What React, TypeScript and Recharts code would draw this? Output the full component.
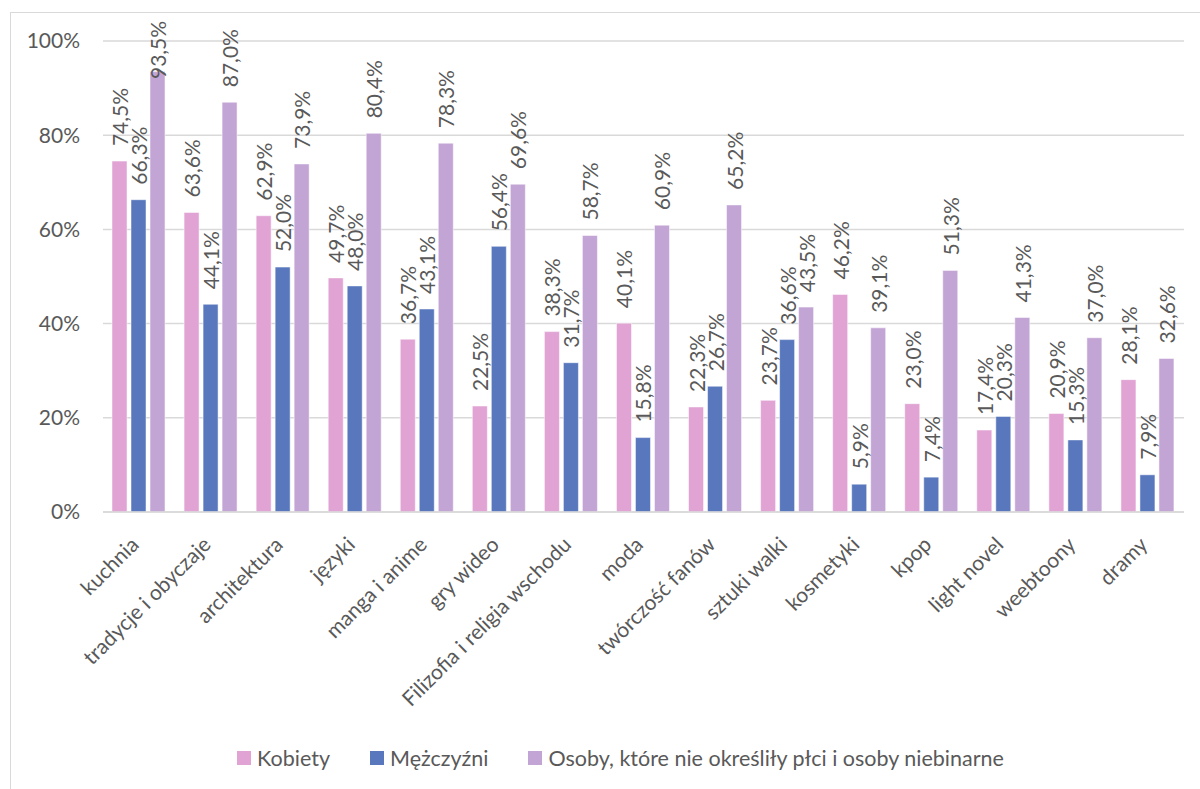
import React from 'react';
import { BarChart, Bar, XAxis, YAxis, CartesianGrid, Legend, LabelList } from 'recharts';

const categories = [
  'kuchnia',
  'tradycje i obyczaje',
  'architektura',
  'języki',
  'manga i anime',
  'gry wideo',
  'Filizofia i religia wschodu',
  'moda',
  'twórczość fanów',
  'sztuki walki',
  'kosmetyki',
  'kpop',
  'light novel',
  'weebtoony',
  'dramy',
];

const kobiety = [74.5, 63.6, 62.9, 49.7, 36.7, 22.5, 38.3, 40.1, 22.3, 23.7, 46.2, 23.0, 17.4, 20.9, 28.1];
const mezczyzni = [66.3, 44.1, 52.0, 48.0, 43.1, 56.4, 31.7, 15.8, 26.7, 36.6, 5.9, 7.4, 20.3, 15.3, 7.9];
const niebinarne = [93.5, 87.0, 73.9, 80.4, 78.3, 69.6, 58.7, 60.9, 65.2, 43.5, 39.1, 51.3, 41.3, 37.0, 32.6];

const yTicks = [0, 20, 40, 60, 80, 100];

const seriesNames = ['Kobiety', 'Mężczyźni', 'Osoby, które nie określiły płci i osoby niebinarne'];
const seriesColors = ['#E0A3D4', '#5877BD', '#C3A5D5'];

const data = categories.map((name, i) => ({
  name,
  k: kobiety[i],
  m: mezczyzni[i],
  o: niebinarne[i],
}));

const FONT = 'Lato, "Noto Sans", sans-serif';
const TEXT = '#595959';
const FS = 21;

const fmt = (v: number) => v.toFixed(1).replace('.', ',') + '%';

// rotated label above the bar, pushed down if it would leave the chart (like Excel)
const renderLabel = (props: any) => {
  const { x, y, width, value } = props;
  const cx = Number(x) + Number(width) / 2;
  const ty = Math.max(Number(y) - 15, 66);
  return (
    <text
      x={cx}
      y={ty}
      transform={`rotate(-90 ${cx} ${ty})`}
      textAnchor="start"
      dominantBaseline="central"
      fill={TEXT}
      fontSize={FS}
      fontFamily={FONT}
    >
      {fmt(Number(value))}
    </text>
  );
};

const XTick = (props: any) => {
  const { x, y, payload } = props;
  return (
    <g transform={`translate(${x - 5},${y + 20})`}>
      <text
        x={0}
        y={0}
        transform="rotate(-45)"
        textAnchor="end"
        dominantBaseline="central"
        fill={TEXT}
        fontSize={FS}
        fontFamily={FONT}
      >
        {payload.value}
      </text>
    </g>
  );
};

const LegendContent = () => (
  <div
    style={{
      display: 'flex',
      justifyContent: 'center',
      alignItems: 'center',
      height: 30,
      paddingLeft: 14,
      fontFamily: FONT,
      fontSize: 21.5,
      color: TEXT,
    }}
  >
    {seriesNames.map((n, i) => (
      <div key={n} style={{ display: 'flex', alignItems: 'center', marginRight: i < 2 ? 40 : 0 }}>
        <span style={{ width: 14, height: 14, background: seriesColors[i], marginRight: 6, display: 'inline-block' }} />
        <span>{n}</span>
      </div>
    ))}
  </div>
);

export default function App() {
  return (
    <div
      style={{
        position: 'fixed',
        left: 10,
        top: 12,
        width: 1200,
        height: 800,
        border: '1px solid #d9d9d9',
        boxSizing: 'border-box',
        background: '#fff',
      }}
    >
      <BarChart
        width={1190}
        height={776}
        data={data}
        margin={{ top: 28, right: 17, bottom: 16, left: 32 }}
        barCategoryGap="12.5%"
        barGap={4}
      >
        <CartesianGrid vertical={false} stroke="#d9d9d9" strokeWidth={1.5} />
        <XAxis
          dataKey="name"
          interval={0}
          height={231}
          tick={<XTick />}
          tickLine={false}
          axisLine={{ stroke: '#d9d9d9', strokeWidth: 1.5 }}
        />
        <YAxis
          width={60}
          domain={[0, 100]}
          ticks={yTicks}
          tickFormatter={(v: number) => `${v}%`}
          axisLine={false}
          tickLine={false}
          tickSize={0}
          tickMargin={23}
          tick={{ fill: TEXT, fontSize: FS, fontFamily: FONT }}
        />
        <Legend verticalAlign="bottom" content={<LegendContent />} />
        <Bar dataKey="k" name={seriesNames[0]} fill={seriesColors[0]} stroke="#fff" strokeWidth={0.5} isAnimationActive={false}>
          <LabelList dataKey="k" content={renderLabel} />
        </Bar>
        <Bar dataKey="m" name={seriesNames[1]} fill={seriesColors[1]} stroke="#fff" strokeWidth={0.5} isAnimationActive={false}>
          <LabelList dataKey="m" content={renderLabel} />
        </Bar>
        <Bar dataKey="o" name={seriesNames[2]} fill={seriesColors[2]} stroke="#fff" strokeWidth={0.5} isAnimationActive={false}>
          <LabelList dataKey="o" content={renderLabel} />
        </Bar>
      </BarChart>
    </div>
  );
}
